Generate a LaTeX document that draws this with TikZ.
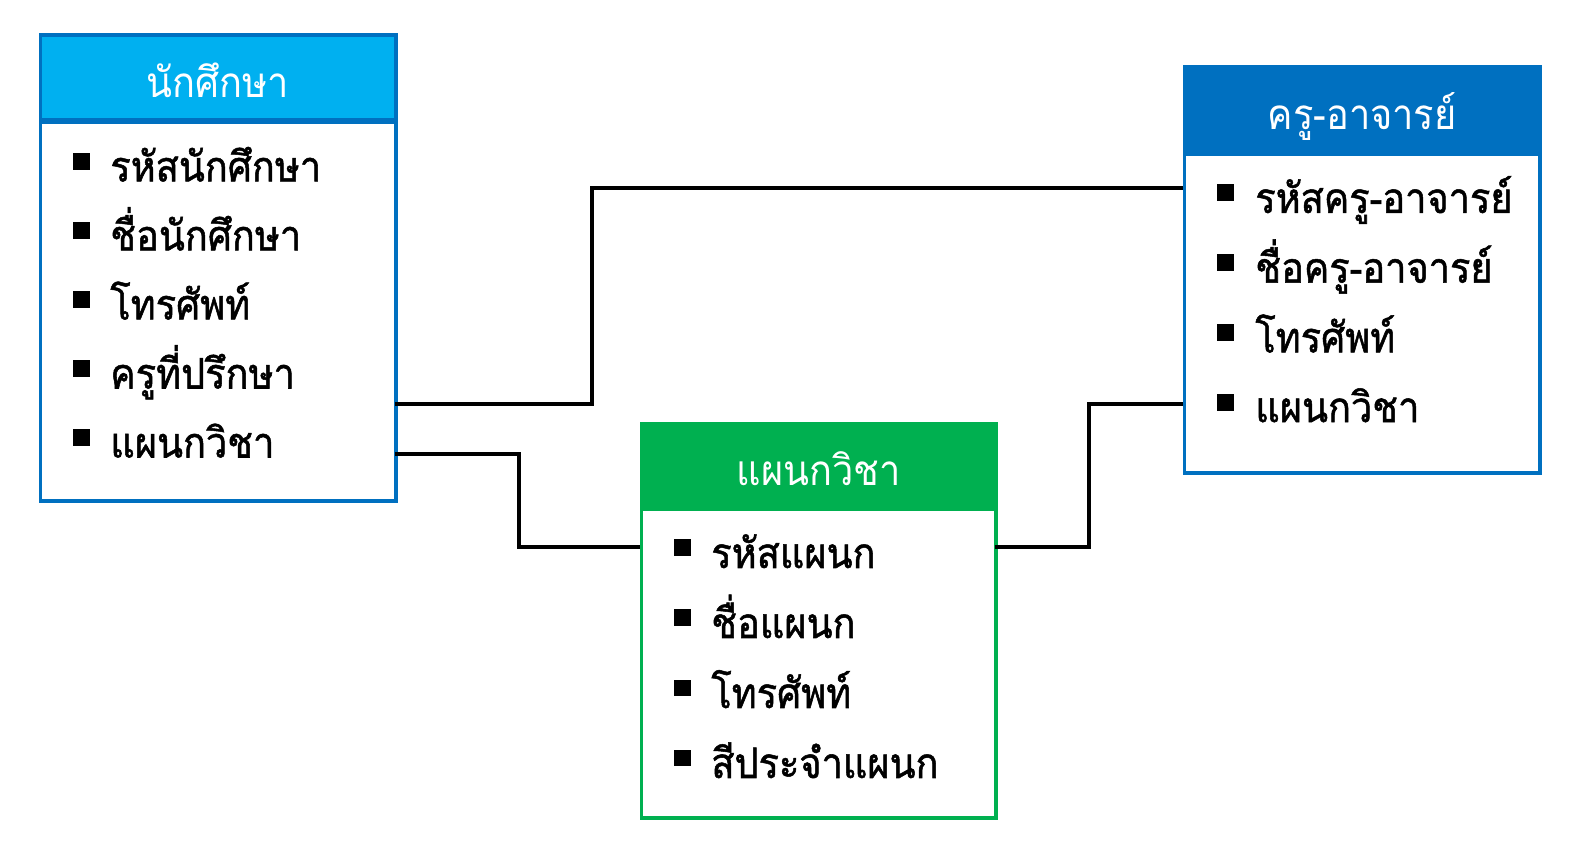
\documentclass[tikz,border=0pt]{standalone}
\usepackage{fontspec}
\newfontfamily\thaifont[Script=Thai, FakeStretch=0.9]{Loma}
\newfontfamily\thaibold[Script=Thai, FakeStretch=0.9, FakeBold=1.2]{Loma}
\usetikzlibrary{positioning}
\definecolor{stublue}{HTML}{00B0F0}
\definecolor{tchblue}{HTML}{0070C0}
\definecolor{depgreen}{HTML}{00B050}

\begin{document}
\begin{tikzpicture}[
  x=0.02cm, y=-0.02cm,
  body/.style={draw, line width=1.9pt, fill=white, anchor=north west, inner sep=0pt},
  hdr/.style={draw, line width=1.9pt, anchor=south west, inner sep=0pt,
    text=white, font=\thaifont\fontsize{24}{28}\selectfont,
    text height=0.8cm, text depth=0pt},
  blt/.style={fill=black, minimum size=0.34cm, inner sep=0pt},
  itm/.style={anchor=base west, inner sep=0pt, font=\thaibold\fontsize{24}{28}\selectfont},
  link/.style={line width=2.8pt}
]
  \useasboundingbox (0,0) rectangle (1580,854);

  % entity boxes
  \node[body, draw=tchblue, minimum width=7.12cm, minimum height=7.57cm] (stubody) at (38.5,121) {};
  \node[hdr, fill=stublue, draw=tchblue, minimum width=7.12cm, minimum height=1.69cm]
    (stuhead) at (stubody.north west) {นักศึกษา};

  \node[body, draw=tchblue, minimum width=7.12cm, minimum height=6.37cm] (tchbody) at (1182.5,153) {};
  \node[hdr, fill=tchblue, draw=tchblue, minimum width=7.12cm, minimum height=1.69cm]
    (tchhead) at (tchbody.north west) {ครู-อาจารย์};

  \node[body, draw=depgreen, minimum width=7.1cm, minimum height=6.17cm] (depbody) at (639.5,508) {};
  \node[hdr, fill=depgreen, draw=depgreen, minimum width=7.1cm, minimum height=1.65cm]
    (dephead) at (depbody.north west) {แผนกวิชา};

  % attributes
  \foreach \i/\t in {1/รหัสนักศึกษา, 2/ชื่อนักศึกษา, 3/โทรศัพท์, 4/ครูที่ปรึกษา, 5/แผนกวิชา} {
    \node[blt] (stu-b\i) at (81.5,{161.5+69*(\i-1)}) {};
    \node[itm] (stu-t\i) at (110,{181.5+69*(\i-1)}) {\t};
  }
  \foreach \i/\t in {1/รหัสครู-อาจารย์, 2/ชื่อครู-อาจารย์, 3/โทรศัพท์, 4/แผนกวิชา} {
    \node[blt] (tch-b\i) at (1225.5,{193+69.7*(\i-1)}) {};
    \node[itm] (tch-t\i) at (1255,{213+69.7*(\i-1)}) {\t};
  }
  \foreach \i/\t in {1/รหัสแผนก, 2/ชื่อแผนก, 3/โทรศัพท์, 4/สีประจำแผนก} {
    \node[blt] (dep-b\i) at (682,{548+70*(\i-1)}) {};
    \node[itm] (dep-t\i) at (711,{568+70*(\i-1)}) {\t};
  }

  % relationships
  \coordinate (stu-p1) at (394.5,404);
  \coordinate (stu-p2) at (394.5,454);
  \coordinate (tch-p1) at (1182.5,188);
  \coordinate (tch-p2) at (1182.5,404);
  \coordinate (dep-p1) at (639.5,547);
  \coordinate (dep-p2) at (994.5,547);
  \coordinate (mid1) at (592,0);
  \coordinate (mid2) at (519,0);
  \coordinate (mid3) at (1089,0);

  \draw[link] (stu-p1) -| (tch-p1 -| mid1) -- (tch-p1);
  \draw[link] (stu-p2) -| (dep-p1 -| mid2) -- (dep-p1);
  \draw[link] (dep-p2) -| (tch-p2 -| mid3) -- (tch-p2);
\end{tikzpicture}
\end{document}
